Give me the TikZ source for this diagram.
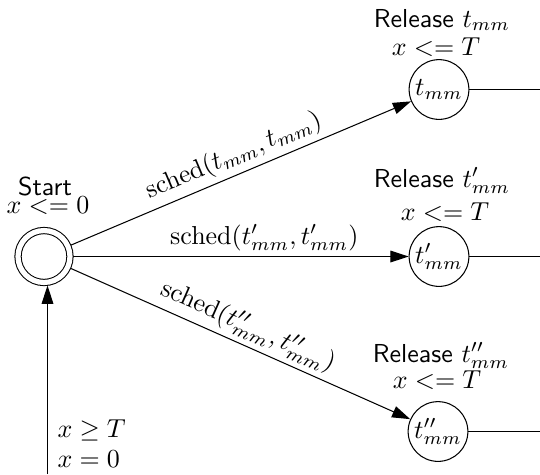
\documentclass[tikz,border=0pt]{standalone}
\usetikzlibrary{arrows.meta}
\begin{document}
\begin{tikzpicture}[x=0.385pt,y=-0.385pt,
  state/.style={circle,draw,minimum size=23pt,inner sep=0pt},
  startstate/.style={circle,draw,double,double distance=2pt,minimum size=20pt,inner sep=0pt,outer sep=1.2pt},
  arr/.style={-{Triangle[length=7pt,width=4.5pt]}},
  lbl/.style={anchor=base,inner sep=0pt},
  elbl/.style={sloped,above,inner sep=2pt}]
\useasboundingbox (0,0) rectangle (540,474);
\node[startstate] (start) at (44,256.5) {};
\node[state] (t1) at (439,89.5) {$t_{mm}$};
\node[state] (t2) at (439,256.5) {$t'_{mm}$};
\node[state] (t3) at (438,431.5) {$t''_{mm}$};
\coordinate (e1) at (540,89.5);
\coordinate (e2) at (540,256.5);
\coordinate (e3) at (540,431.5);
\coordinate (b) at (47.5,474);
\draw (t1) -- (e1);
\draw (t2) -- (e2);
\draw (t3) -- (e3);
\draw[arr] (start) -- node[elbl]{$\mathrm{sched}(t_{mm},t_{mm})$} (t1);
\draw[arr] (start) -- node[elbl,pos=0.57]{$\mathrm{sched}(t'_{mm},t'_{mm})$} (t2);
\draw[arr] (start) -- node[elbl]{$\mathrm{sched}(t''_{mm},t''_{mm})$} (t3);
\draw[arr] (b) -- (b |- start.south);
\node[lbl] (ls1) at (45,195) {\textsf{Start}};
\node[lbl] (ls2) at (48,213) {$x <= 0$};
\node[lbl] (lr1) at (442,27) {\textsf{Release} $t_{mm}$};
\node[lbl] (lr1b) at (436,55) {$x <= T$};
\node[lbl] (lr2) at (442,187) {\textsf{Release} $t'_{mm}$};
\node[lbl] (lr2b) at (445,220) {$x <= T$};
\node[lbl] (lr3) at (441,362) {\textsf{Release} $t''_{mm}$};
\node[lbl] (lr3b) at (437,388) {$x <= T$};
\node[lbl,anchor=base west] (g1) at (57,437) {$x \geq T$};
\node[lbl,anchor=base west] (g2) at (57,467) {$x = 0$};
\end{tikzpicture}
\end{document}
